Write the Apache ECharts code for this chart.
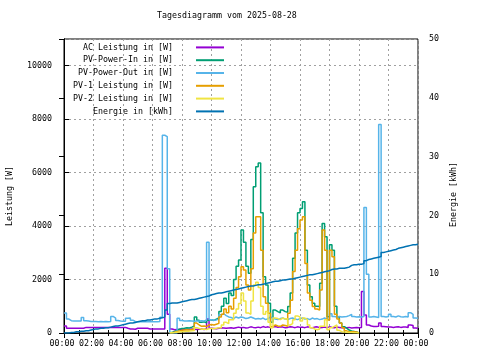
<!DOCTYPE html>
<html><head><meta charset="utf-8">
<script src="https://cdn.jsdelivr.net/npm/echarts@6/dist/echarts.min.js"></script>
<style>html,body{margin:0;padding:0;background:#fff}#c{width:480px;height:360px}</style>
</head><body><div id="c"></div>
<script>
const chartTitle = 'Tagesdiagramm vom 2025-08-28';
const leftAxisName = 'Leistung [W]';
const rightAxisName = 'Energie [kWh]';
const xTickLabels = ['00:00','02:00','04:00','06:00','08:00','10:00','12:00','14:00','16:00','18:00','20:00','22:00','00:00'];
const seriesNames = ['AC Leistung in [W]','PV-Power-In in [W]','PV-Power-Out in [W]','PV-1 Leistung in [W]','PV-2 Leistung in [W]','Energie in [kWh]'];

// minutes since midnight
const times = [
  0,10,20,30,40,50, 60,70,80,90,100,110, 120,130,140,150,160,170, 180,190,200,210,220,230,
  240,250,260,270,280,290, 300,310,320,330,340,350, 360,370,380,390,400,410, 420,430,440,450,460,470,
  480,490,500,510,520,530, 540,550,560,570,580,590, 600,610,620,630,640,650, 660,670,680,690,700,710,
  720,730,740,750,760,770, 780,790,800,810,820,830, 840,850,860,870,880,890, 900,910,920,930,940,950,
  960,970,980,990,1000,1010, 1020,1030,1040,1050,1060,1070, 1080,1090,1100,1110,1120,1130, 1140,1150,1160,1170,1180,1190,
  1200,1210,1220,1230,1240,1250, 1260,1270,1280,1290,1300,1310, 1320,1330,1340,1350,1360,1370, 1380,1390,1400,1410,1420,1430,
  1440
];

const acPower = [
  260,180,175,175,175,175,
  175,175,210,210,210,210,
  210,210,210,210,210,210,
  210,210,210,210,210,210,
  210,175,150,150,140,175,
  175,175,175,175,150,150,
  150,150,150,150,150,2420,
  700,150,120,130,140,130,
  130,140,130,150,140,130,
  140,150,130,160,520,180,
  170,160,180,200,190,180,
  190,200,180,200,220,200,
  210,190,200,230,210,200,
  220,200,240,210,230,200,
  220,240,210,230,220,200,
  210,230,220,200,230,210,
  220,200,230,210,200,220,
  230,200,210,220,200,230,
  210,200,220,210,200,210,
  200,210,190,200,210,200,
  210,1550,670,300,260,240,
  240,250,370,240,230,220,
  220,210,220,230,210,220,
  220,210,300,280,190,175,
  175
];

const pvPowerIn = [
  null,null,null,null,null,null, null,null,null,null,null,null, null,null,null,null,null,null,
  null,null,null,null,null,null, null,null,null,null,null,null, null,null,null,null,null,null,
  null,null,null,null,null,null,
  null,20,60,100,140,170,
  180,200,190,220,260,600,
  480,400,420,380,480,500,
  470,520,560,800,1000,1300,
  1100,1500,1400,2000,2500,2730,
  3850,3400,2500,2240,3500,5470,
  6220,6360,4500,2100,1800,1110,
  400,860,800,750,860,800,
  780,990,1500,2800,3740,4500,
  4660,4910,3100,1800,1360,1110,
  1000,990,1860,4100,3600,610,
  3300,3100,1000,610,370,235,
  180,110,80,60,40,0,
  null,null,null,null,null,null, null,null,null,null,null,null,
  null,null,null,null,null,null, null,null,null,null,null,null,
  null
];

const pvPowerOut = [
  750,520,460,450,450,450,
  450,580,460,450,430,430,
  430,420,430,420,430,420,
  430,620,560,470,450,440,
  440,550,560,480,430,420,
  420,420,420,420,420,420,
  420,420,430,590,7400,7350,
  2400,0,0,0,550,470,
  450,450,460,450,440,450,
  450,460,450,480,3400,500,
  480,490,520,680,720,650,
  600,580,540,600,560,600,
  580,540,560,600,560,520,
  540,520,560,500,540,600,
  560,520,500,540,560,520,
  500,540,560,520,500,540,
  560,520,540,500,560,520,
  540,500,520,560,520,500,
  720,620,600,620,600,610,
  620,650,700,620,600,610,
  600,620,4700,2200,600,620,
  600,580,7800,620,600,620,
  700,620,600,640,610,600,
  620,600,760,700,560,550,
  550
];

const pv1Power = [
  null,null,null,null,null,null, null,null,null,null,null,null, null,null,null,null,null,null,
  null,null,null,null,null,null, null,null,null,null,null,null, null,null,null,null,null,null,
  null,null,null,null,null,null,
  null,10,30,60,80,100,
  110,120,110,130,160,370,
  300,250,260,240,300,320,
  300,330,360,600,700,900,
  760,1000,900,1300,1700,2100,
  2480,2360,1800,1610,2400,3740,
  4350,4350,3100,1360,1110,740,
  235,300,260,250,300,280,
  250,740,1230,2300,3100,3900,
  4230,4350,2600,1500,1230,990,
  900,860,1610,3850,3100,490,
  3100,2850,700,520,370,200,
  80,50,50,50,40,0,
  null,null,null,null,null,null, null,null,null,null,null,null,
  null,null,null,null,null,null, null,null,null,null,null,null,
  null
];

const pv2Power = [
  null,null,null,null,null,null, null,null,null,null,null,null, null,null,null,null,null,null,
  null,null,null,null,null,null, null,null,null,null,null,null, null,null,null,null,null,null,
  null,null,null,null,null,null,
  null,5,20,30,40,50,
  60,70,70,80,90,200,
  170,140,150,130,170,170,
  160,180,200,200,300,400,
  350,500,500,740,900,1100,
  1500,1200,750,700,1200,1800,
  1900,1700,1000,700,800,400,
  200,560,540,500,560,520,
  530,300,350,500,640,600,
  450,560,500,300,200,150,
  120,150,250,250,500,120,
  200,250,300,100,50,40,
  30,20,20,10,5,0,
  null,null,null,null,null,null, null,null,null,null,null,null,
  null,null,null,null,null,null, null,null,null,null,null,null,
  null
];

const energy = [
  0.0,0.0,0.1,0.1,0.2,0.2,
  0.3,0.3,0.4,0.4,0.5,0.6,
  0.7,0.7,0.8,0.8,0.9,0.9,
  1.0,1.1,1.2,1.2,1.3,1.4,
  1.5,1.6,1.7,1.7,1.8,1.9,
  2.0,2.1,2.1,2.2,2.2,2.3,
  2.4,2.4,2.5,2.6,2.7,3.9,
  5.0,5.1,5.1,5.1,5.2,5.3,
  5.4,5.5,5.6,5.7,5.7,5.8,
  5.9,6.0,6.1,6.2,6.3,6.5,
  6.6,6.7,6.8,6.8,6.9,7.0,
  7.1,7.2,7.3,7.4,7.5,7.6,
  7.7,7.8,7.9,8.0,8.0,8.1,
  8.2,8.2,8.3,8.4,8.5,8.6,
  8.7,8.8,8.8,8.9,9.0,9.0,
  9.1,9.2,9.2,9.3,9.4,9.5,
  9.6,9.7,9.8,9.9,9.9,10.0,
  10.1,10.2,10.3,10.4,10.5,10.6,
  10.8,10.9,10.9,11.0,11.0,11.0,
  11.1,11.2,11.5,11.6,11.6,11.7,
  11.7,11.8,12.3,12.5,12.6,12.7,
  12.8,12.9,13.0,13.7,13.8,13.9,
  14.0,14.1,14.2,14.4,14.5,14.6,
  14.7,14.8,14.9,15.0,15.0,15.1,
  15.1
];

const colors = ['#9400d3','#009e73','#56b4e9','#e69f00','#f0e442','#0072b2'];
const FONT = 'DejaVu Sans Mono';
const txt = {fontFamily: FONT, fontSize: 8.3, color: '#000', fontWeight: 'normal'};

function pairs(vals) { return times.map((t, i) => [t, vals[i]]); }
const seriesValues = [acPower, pvPowerIn, pvPowerOut, pv1Power, pv2Power, energy];

const chart = echarts.init(document.getElementById('c'), null, {renderer: 'canvas'});
const option = {
  animation: false,
  backgroundColor: '#fff',
  title: {text: chartTitle, left: 157, top: 12, padding: 0, textStyle: Object.assign({}, txt)},
  legend: {
    orient: 'vertical', align: 'right', right: 256, top: 41, padding: 0, itemGap: 0,
    itemWidth: 28, itemHeight: 2, icon: 'rect', selectedMode: false,
    textStyle: Object.assign({}, txt, {lineHeight: 12.8, padding: [0, 18, 0, 0]}),
    data: seriesNames
  },
  grid: {left: 64, right: 62, top: 39, bottom: 27, containLabel: false, outerBoundsMode: 'none',
         show: true, borderColor: '#000', borderWidth: 1, backgroundColor: 'transparent'},
  xAxis: [{
    type: 'value', min: 0, max: 1440, interval: 120,
    axisLine: {show: true, lineStyle: {color: '#000'}},
    axisTick: {show: true, inside: true, length: 5, lineStyle: {color: '#000'}},
    minorTick: {show: true, splitNumber: 2, length: 3, lineStyle: {color: '#000'}},
    splitLine: {show: true, lineStyle: {color: '#a0a0a0', type: [2, 3], width: 1}},
    axisLabel: Object.assign({}, txt, {margin: 7, padding: [0, 4, 0, 0], formatter: v => xTickLabels[Math.round(v / 120)]})
  }, {
    type: 'value', min: 0, max: 1440, interval: 120, position: 'top',
    axisLine: {show: false},
    axisTick: {show: true, inside: true, length: 5, lineStyle: {color: '#000'}},
    minorTick: {show: true, splitNumber: 2, length: 3, lineStyle: {color: '#000'}},
    splitLine: {show: false}, axisLabel: {show: false}
  }],
  yAxis: [{
    type: 'value', min: 0, max: 11000, interval: 2000, position: 'left',
    name: leftAxisName, nameLocation: 'middle', nameGap: 50, nameRotate: 90,
    nameTextStyle: Object.assign({}, txt, {padding: [0, 20, 0, 0]}),
    axisLine: {show: true, lineStyle: {color: '#000'}},
    axisTick: {show: true, inside: true, length: 5, lineStyle: {color: '#000'}},
    splitLine: {show: true, lineStyle: {color: '#a0a0a0', type: [2, 3], width: 1}},
    axisLabel: Object.assign({}, txt, {margin: 12, showMaxLabel: false, formatter: v => String(v)})
  }, {
    type: 'value', min: 0, max: 50, interval: 10, position: 'right',
    name: rightAxisName, nameLocation: 'middle', nameGap: 29, nameRotate: 90,
    nameTextStyle: Object.assign({}, txt, {padding: [0, 17, 0, 0]}),
    axisLine: {show: true, lineStyle: {color: '#000'}},
    axisTick: {show: true, inside: true, length: 5, lineStyle: {color: '#000'}},
    splitLine: {show: false},
    axisLabel: Object.assign({}, txt, {margin: 11, formatter: v => String(v)})
  }],
  series: seriesNames.map((name, i) => ({
    name: name, type: 'line', step: 'end', symbol: 'none', showSymbol: false,
    xAxisIndex: 0, yAxisIndex: i === 5 ? 1 : 0,
    data: pairs(seriesValues[i]), connectNulls: false, silent: true, clip: true,
    lineStyle: {width: 1.5, color: colors[i]}, itemStyle: {color: colors[i]},
    z: 2 + i
  }))
};
chart.setOption(option);
</script>
</body></html>
